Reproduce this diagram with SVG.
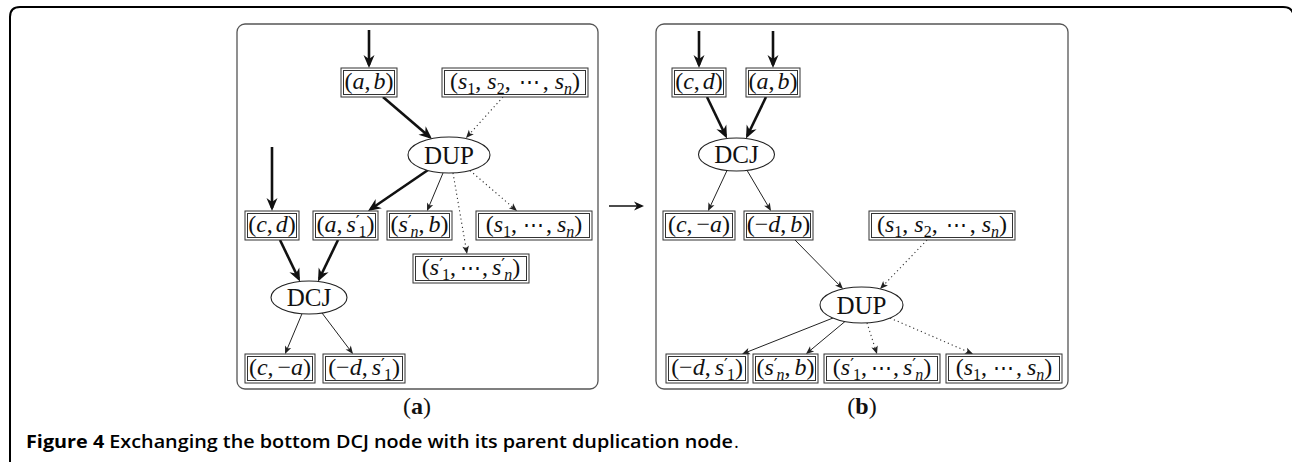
<svg xmlns="http://www.w3.org/2000/svg" width="1292" height="462" viewBox="0 0 1292 462">
<style>
.frame{fill:none;stroke:#000;stroke-width:2}
.panel{fill:none;stroke:#555;stroke-width:1.3}
.bo{fill:#fff;stroke:#333;stroke-width:1}
.bi{fill:none;stroke:#333;stroke-width:1}
.el{fill:#fff;stroke:#222;stroke-width:1.1}
.m{font-family:"Liberation Serif","DejaVu Serif",serif;font-size:24px;fill:#111;text-anchor:middle}
.op{font-family:"Liberation Serif","DejaVu Serif",serif;font-size:25px;fill:#111;text-anchor:middle}
.i{font-style:italic}
.s{font-size:16px}
.p{font-family:"DejaVu Serif",serif;font-size:17px}
.c{font-size:21px}
.thick{stroke:#111;stroke-width:2.6;fill:none;marker-end:url(#hk)}
.thin{stroke:#222;stroke-width:1;fill:none;marker-end:url(#hn)}
.dot{stroke:#333;stroke-width:1.1;fill:none;stroke-dasharray:1.2 3;marker-end:url(#hn)}
.cap{font-family:"Open Sans","Noto Sans",sans-serif;font-size:18.5px;fill:#000}
</style>
<defs>
<marker id="hk" markerUnits="userSpaceOnUse" orient="auto" overflow="visible" markerWidth="1" markerHeight="1"><path d="M3,0 L-10,-5.5 L-6,0 L-10,5.5 Z" fill="#111"/></marker>
<marker id="hn" markerUnits="userSpaceOnUse" orient="auto" overflow="visible" markerWidth="1" markerHeight="1"><path d="M2,0 L-6,-3.3 L-4,0 L-6,3.3 Z" fill="#222"/></marker>
<marker id="hm" markerUnits="userSpaceOnUse" orient="auto" overflow="visible" markerWidth="1" markerHeight="1"><path d="M2,0 L-8,-4.5 L-5,0 L-8,4.5 Z" fill="#111"/></marker>
</defs>
<rect width="1292" height="462" fill="#fff"/>
<path class="frame" d="M10,462 L10,17 Q10,7 20,7 L1283,7 Q1291,7 1293,13"/>
<rect class="panel" x="237" y="24" width="361" height="365" rx="8"/>
<rect class="panel" x="656" y="24" width="412" height="365" rx="8"/>

<g id="connectors">
<line class="thick" x1="369" y1="30" x2="369" y2="65"/>
<line class="thick" x1="383" y1="97" x2="429.7" y2="137"/>
<line class="dot" x1="503" y1="97" x2="467.3" y2="136.5"/>
<line class="thick" x1="428" y1="170" x2="370.5" y2="209.3"/>
<line class="thin" x1="443" y1="173" x2="427.8" y2="209.2"/>
<line class="dot" x1="453" y1="173" x2="466.7" y2="252"/>
<line class="dot" x1="470" y1="170.5" x2="515.5" y2="209.7"/>
<line class="thick" x1="272" y1="147" x2="272" y2="208"/>
<line class="thick" x1="280" y1="240" x2="298.7" y2="278.8"/>
<line class="thick" x1="338" y1="240" x2="319.3" y2="278.8"/>
<line class="thin" x1="302" y1="313.7" x2="285.8" y2="352.2"/>
<line class="thin" x1="322" y1="313" x2="351.8" y2="352.4"/>
<line class="thick" x1="699" y1="31" x2="699" y2="65"/>
<line class="thick" x1="773" y1="31" x2="773" y2="65"/>
<line class="thick" x1="707" y1="97" x2="725.7" y2="135.8"/>
<line class="thick" x1="766" y1="97" x2="747.3" y2="135.8"/>
<line class="thin" x1="727" y1="170.5" x2="708.9" y2="209.2"/>
<line class="thin" x1="747" y1="170.3" x2="770" y2="209.3"/>
<line class="thin" x1="795" y1="240" x2="841.6" y2="287.5"/>
<line class="dot" x1="927" y1="240" x2="881.4" y2="287.5"/>
<line class="thin" x1="833" y1="318" x2="743.9" y2="353.3"/>
<line class="thin" x1="845" y1="321.5" x2="807.5" y2="352.7"/>
<line class="dot" x1="867" y1="322.9" x2="876.4" y2="352.1"/>
<line class="dot" x1="890" y1="318" x2="971.2" y2="353.2"/>
<line x1="609" y1="206" x2="642" y2="206" stroke="#111" stroke-width="1.5" marker-end="url(#hm)"/>
</g>

<!-- Panel a -->
<g id="a_ab"><rect class="bo" x="341" y="68" width="56" height="29"/><rect class="bi" x="343.5" y="70.5" width="51" height="24"/>
<text class="m" x="369" y="88.5">(<tspan class="i">a</tspan>,<tspan class="i" dx="3">b</tspan>)</text></g>
<g id="a_s12n"><rect class="bo" x="442" y="68" width="146" height="29"/><rect class="bi" x="444.5" y="70.5" width="141" height="24"/>
<text class="m" x="515" y="88.5">(<tspan class="i">s</tspan><tspan class="s" dy="5">1</tspan><tspan dy="-5">,</tspan><tspan class="i" dx="6">s</tspan><tspan class="s" dy="5">2</tspan><tspan dy="-5">,</tspan><tspan class="c" dx="8">⋯</tspan><tspan dx="3">,</tspan><tspan class="i" dx="6">s</tspan><tspan class="s i" dy="5">n</tspan><tspan dy="-5">)</tspan></text></g>
<g id="a_dup"><ellipse class="el" cx="449" cy="155" rx="41" ry="18"/><text class="op" x="449" y="163.5">DUP</text></g>
<g id="a_cd"><rect class="bo" x="245" y="211" width="54" height="29"/><rect class="bi" x="247.5" y="213.5" width="49" height="24"/>
<text class="m" x="272" y="231.5">(<tspan class="i">c</tspan>,<tspan class="i" dx="3">d</tspan>)</text></g>
<g id="a_as1"><rect class="bo" x="313" y="211" width="65" height="29"/><rect class="bi" x="315.5" y="213.5" width="60" height="24"/>
<text class="m" x="345.5" y="231.5">(<tspan class="i">a</tspan>,<tspan class="i" dx="4">s</tspan><tspan class="p" dy="-5">′</tspan><tspan class="s" dx="-1" dy="10">1</tspan><tspan dy="-5">)</tspan></text></g>
<g id="a_snb"><rect class="bo" x="387" y="211" width="65" height="29"/><rect class="bi" x="389.5" y="213.5" width="60" height="24"/>
<text class="m" x="419.5" y="231.5">(<tspan class="i">s</tspan><tspan class="p" dy="-5">′</tspan><tspan class="s i" dx="-1" dy="10">n</tspan><tspan dy="-5">,</tspan><tspan class="i" dx="4">b</tspan>)</text></g>
<g id="a_s1n"><rect class="bo" x="476" y="211" width="116" height="29"/><rect class="bi" x="478.5" y="213.5" width="111" height="24"/>
<text class="m" x="534" y="231.5">(<tspan class="i">s</tspan><tspan class="s" dy="5">1</tspan><tspan dy="-5">,</tspan><tspan class="c" dx="6">⋯</tspan><tspan dx="2">,</tspan><tspan class="i" dx="5">s</tspan><tspan class="s i" dy="5">n</tspan><tspan dy="-5">)</tspan></text></g>
<g id="a_s1pn"><rect class="bo" x="413" y="254" width="116" height="29"/><rect class="bi" x="415.5" y="256.5" width="111" height="24"/>
<text class="m" x="471" y="274.5">(<tspan class="i">s</tspan><tspan class="p" dy="-5">′</tspan><tspan class="s" dx="-1" dy="10">1</tspan><tspan dy="-5">,</tspan><tspan class="c" dx="4">⋯</tspan><tspan dx="1">,</tspan><tspan class="i" dx="4">s</tspan><tspan class="p" dy="-5">′</tspan><tspan class="s i" dx="-1" dy="10">n</tspan><tspan dy="-5">)</tspan></text></g>
<g id="a_dcj"><ellipse class="el" cx="309" cy="297.5" rx="38" ry="16.5"/><text class="op" x="309" y="306">DCJ</text></g>
<g id="a_ca"><rect class="bo" x="245" y="354" width="70" height="29"/><rect class="bi" x="247.5" y="356.5" width="65" height="24"/>
<text class="m" x="280" y="374.5">(<tspan class="i">c</tspan>,<tspan dx="4">−</tspan><tspan class="i">a</tspan>)</text></g>
<g id="a_ds1"><rect class="bo" x="323" y="354" width="82" height="29"/><rect class="bi" x="325.5" y="356.5" width="77" height="24"/>
<text class="m" x="364" y="374.5">(−<tspan class="i">d</tspan>,<tspan class="i" dx="4">s</tspan><tspan class="p" dy="-5">′</tspan><tspan class="s" dx="-1" dy="10">1</tspan><tspan dy="-5">)</tspan></text></g>
<text class="m" x="417" y="414">(<tspan font-weight="bold">a</tspan>)</text>

<!-- Panel b -->
<g id="b_cd"><rect class="bo" x="672" y="68" width="54" height="29"/><rect class="bi" x="674.5" y="70.5" width="49" height="24"/>
<text class="m" x="699" y="88.5">(<tspan class="i">c</tspan>,<tspan class="i" dx="3">d</tspan>)</text></g>
<g id="b_ab"><rect class="bo" x="746" y="68" width="54" height="29"/><rect class="bi" x="748.5" y="70.5" width="49" height="24"/>
<text class="m" x="773" y="88.5">(<tspan class="i">a</tspan>,<tspan class="i" dx="3">b</tspan>)</text></g>
<g id="b_dcj"><ellipse class="el" cx="736.5" cy="154.5" rx="38" ry="16.5"/><text class="op" x="736.5" y="163">DCJ</text></g>
<g id="b_ca"><rect class="bo" x="663" y="211" width="72" height="29"/><rect class="bi" x="665.5" y="213.5" width="67" height="24"/>
<text class="m" x="699" y="231.5">(<tspan class="i">c</tspan>,<tspan dx="4">−</tspan><tspan class="i">a</tspan>)</text></g>
<g id="b_db"><rect class="bo" x="744" y="211" width="69" height="29"/><rect class="bi" x="746.5" y="213.5" width="64" height="24"/>
<text class="m" x="778.5" y="231.5">(−<tspan class="i">d</tspan>,<tspan class="i" dx="4">b</tspan>)</text></g>
<g id="b_s12n"><rect class="bo" x="869" y="211" width="146" height="29"/><rect class="bi" x="871.5" y="213.5" width="141" height="24"/>
<text class="m" x="942" y="231.5">(<tspan class="i">s</tspan><tspan class="s" dy="5">1</tspan><tspan dy="-5">,</tspan><tspan class="i" dx="6">s</tspan><tspan class="s" dy="5">2</tspan><tspan dy="-5">,</tspan><tspan class="c" dx="8">⋯</tspan><tspan dx="3">,</tspan><tspan class="i" dx="6">s</tspan><tspan class="s i" dy="5">n</tspan><tspan dy="-5">)</tspan></text></g>
<g id="b_dup"><ellipse class="el" cx="861.5" cy="305" rx="41.5" ry="18"/><text class="op" x="861.5" y="313.5">DUP</text></g>
<g id="b_ds1"><rect class="bo" x="666" y="354" width="82" height="29"/><rect class="bi" x="668.5" y="356.5" width="77" height="24"/>
<text class="m" x="707" y="374.5">(−<tspan class="i">d</tspan>,<tspan class="i" dx="4">s</tspan><tspan class="p" dy="-5">′</tspan><tspan class="s" dx="-1" dy="10">1</tspan><tspan dy="-5">)</tspan></text></g>
<g id="b_snb"><rect class="bo" x="753" y="354" width="65" height="29"/><rect class="bi" x="755.5" y="356.5" width="60" height="24"/>
<text class="m" x="785.5" y="374.5">(<tspan class="i">s</tspan><tspan class="p" dy="-5">′</tspan><tspan class="s i" dx="-1" dy="10">n</tspan><tspan dy="-5">,</tspan><tspan class="i" dx="4">b</tspan>)</text></g>
<g id="b_s1pn"><rect class="bo" x="824" y="354" width="116" height="29"/><rect class="bi" x="826.5" y="356.5" width="111" height="24"/>
<text class="m" x="882" y="374.5">(<tspan class="i">s</tspan><tspan class="p" dy="-5">′</tspan><tspan class="s" dx="-1" dy="10">1</tspan><tspan dy="-5">,</tspan><tspan class="c" dx="4">⋯</tspan><tspan dx="1">,</tspan><tspan class="i" dx="4">s</tspan><tspan class="p" dy="-5">′</tspan><tspan class="s i" dx="-1" dy="10">n</tspan><tspan dy="-5">)</tspan></text></g>
<g id="b_s1n"><rect class="bo" x="946" y="354" width="116" height="29"/><rect class="bi" x="948.5" y="356.5" width="111" height="24"/>
<text class="m" x="1004" y="374.5">(<tspan class="i">s</tspan><tspan class="s" dy="5">1</tspan><tspan dy="-5">,</tspan><tspan class="c" dx="6">⋯</tspan><tspan dx="2">,</tspan><tspan class="i" dx="5">s</tspan><tspan class="s i" dy="5">n</tspan><tspan dy="-5">)</tspan></text></g>
<text class="m" x="862" y="414">(<tspan font-weight="bold">b</tspan>)</text>

<text class="cap" x="26" y="448" textLength="707" lengthAdjust="spacingAndGlyphs"><tspan font-weight="700">Figure 4</tspan><tspan font-weight="600"> Exchanging the bottom DCJ node with its parent duplication node</tspan></text>
<text class="cap" x="734" y="448">.</text>
</svg>
